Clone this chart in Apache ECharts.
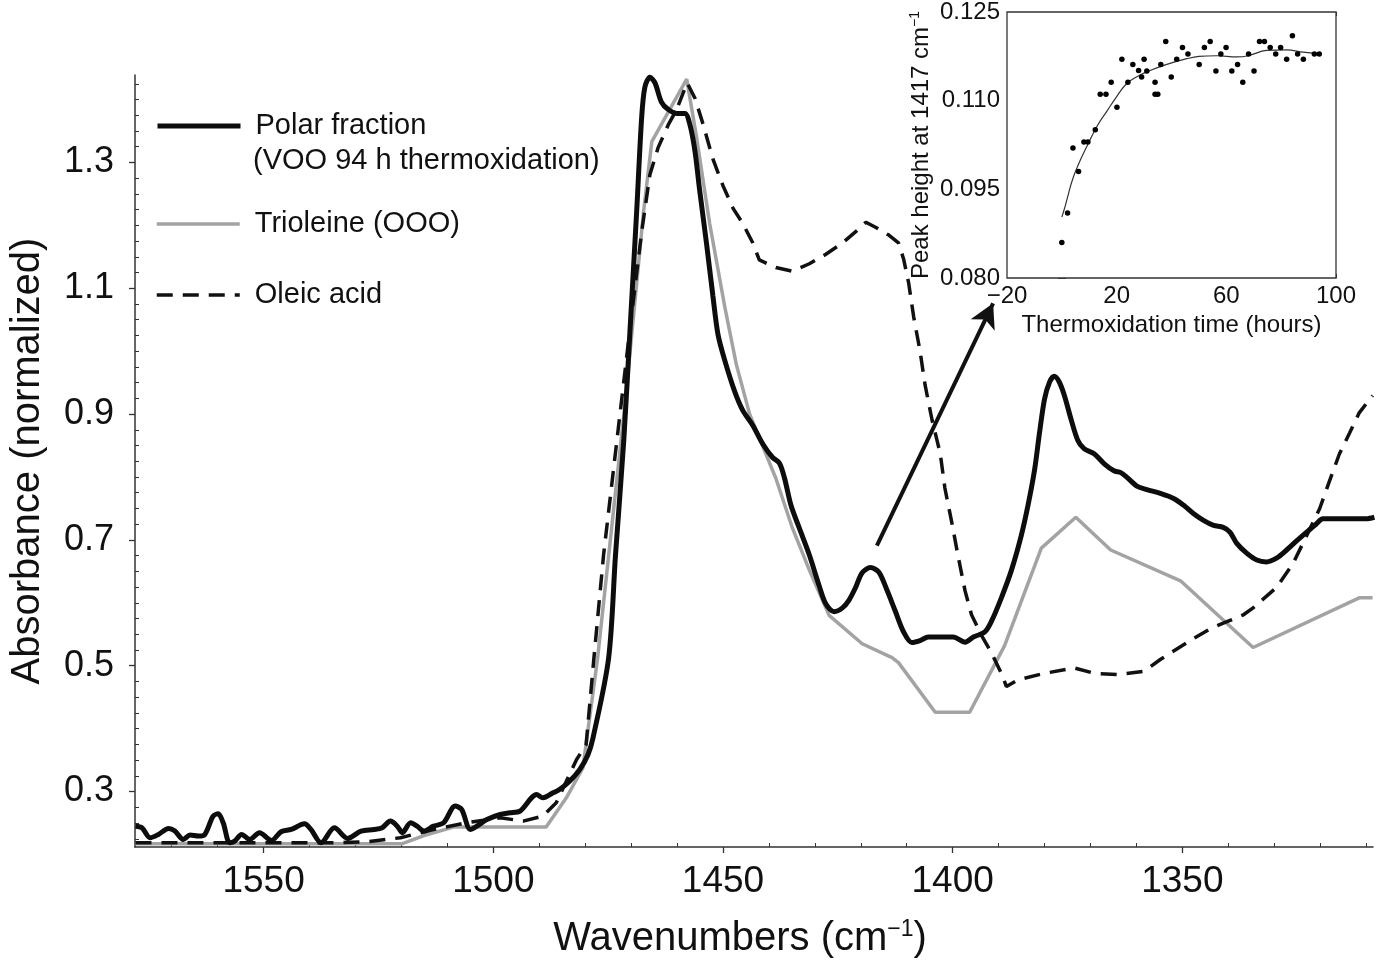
<!DOCTYPE html>
<html><head><meta charset="utf-8">
<script src="https://cdn.jsdelivr.net/npm/echarts@6/dist/echarts.min.js"></script>
<style>html,body{margin:0;padding:0;background:#fff}#c{width:1376px;height:964px}</style>
</head><body><div id="c"></div>
<script>
// ---------- Main spectrum data (wavenumber cm-1, normalized absorbance) ----------
const polarWn = [1577.9,1576.5,1574.7,1572.9,1570.7,1569.3,1567.5,1566.0,1564.2,1562.8,1561.0,1559.9,1558.8,1557.4,1556.3,1554.8,1553.0,1550.9,1548.3,1546.2,1544.0,1541.1,1539.7,1537.5,1534.6,1531.7,1528.8,1526.0,1524.2,1522.4,1520.9,1519.8,1518.0,1516.6,1515.1,1513.0,1510.8,1508.3,1506.9,1505.0,1503.6,1501.4,1498.5,1496.4,1494.2,1491.7,1490.6,1489.2,1487.0,1485.6,1483.4,1481.2,1479.4,1478.3,
1474.9,1473.4,1471.6,1470.2,1468.8,1467.7,1467.0,1465.9,1464.8,1463.4,1461.9,1460.1,1458.3,1457.2,1456.1,1455.1,1453.6,1452.2,1451.1,1449.6,1447.5,1445.7,1443.5,1441.3,1439.2,1437.7,1436.6,1435.2,1433.4,1431.2,1429.1,1427.6,1425.8,1424.0,1422.6,1421.1,1419.7,1417.9,1416.1,1414.4,1412.5,1410.7,1408.9,1407.1,1405.3,1402.4,1399.9,1397.3,1395.5,1393.0,1391.6,1389.4,1387.2,1385.1,1383.6,1382.2,1381.1,1380.0,1378.9,1377.9,1376.8,1375.7,1374.2,1372.8,1371.4,1369.2,1367.0,1364.9,1363.4,1362.0,1359.8,1357.7,1354.8,1351.9,1349.7,1347.6,1345.4,1343.2,1341.1,1339.6,1338.2,1336.0,1333.8,1331.7,1329.5,1327.3,1325.2,1323.0,1320.9,1319.4,1316.5,1312.9,1310.0,1308.2];
const polarAbs = [0.245,0.2425,0.2266,0.2319,0.2414,0.2372,0.2239,0.2309,0.2293,0.2319,0.261,0.2647,0.2504,0.2187,0.2213,0.2319,0.2239,0.2346,0.2223,0.2361,0.2398,0.2488,0.2398,0.2187,0.2425,0.2255,0.2372,0.2398,0.2425,0.2531,0.245,0.2346,0.2504,0.245,0.2372,0.245,0.2504,0.2769,0.2716,0.2398,0.245,0.2556,0.2636,0.2662,0.2689,0.290,0.2952,0.290,0.298,0.3032,0.3165,0.3349,0.3586,0.385,
0.512,0.676,0.858,1.039,1.221,1.372,1.420,1.4355,1.4265,1.396,1.384,1.378,1.378,1.360,1.318,1.257,1.172,1.088,1.027,0.985,0.937,0.906,0.882,0.852,0.831,0.822,0.798,0.755,0.719,0.676,0.628,0.598,0.586,0.592,0.604,0.625,0.648,0.656,0.649,0.622,0.587,0.554,0.537,0.540,0.5456,0.5456,0.5456,0.5374,0.5456,0.5537,0.570,0.608,0.652,0.706,0.755,0.810,0.870,0.924,0.951,0.960,0.951,0.930,0.891,0.859,0.845,0.837,0.821,0.810,0.807,0.799,0.785,0.780,0.774,0.766,0.755,0.742,0.731,0.723,0.720,0.712,0.695,0.679,0.668,0.665,0.671,0.684,0.698,0.712,0.725,0.7335,0.7335,0.7335,0.7335,0.736];

const trioWn  = [1577.9,1519.8,1515.1,1508.7,1488.5,1484.1,1480.5,1477.3,1471.3,1467.3,1465.5,1457.9,1455.8,1452.9,1449.6,1447.1,1444.2,1438.5,1434.9,1431.2,1426.9,1419.7,1413.2,1411.8,1403.8,1396.3,1388.7,1380.7,1373.2,1365.6,1350.4,1334.6,1311.5,1308.6];
const trioAbs = [0.2171,0.2171,0.230,0.2436,0.2436,0.290,0.3376,0.512,0.918,1.221,1.333,1.4325,1.342,1.203,1.070,0.979,0.900,0.798,0.719,0.652,0.580,0.535,0.513,0.505,0.426,0.426,0.532,0.687,0.736,0.684,0.635,0.529,0.608,0.608];

const oleicWn  = [1577.9,1534.6,1527.4,1520.2,1513.0,1505.8,1498.5,1493.5,1489.2,1486.3,1484.1,1481.9,1479.8,1478.1,1476.0,1473.1,1470.2,1467.7,1465.9,1464.1,1461.9,1460.1,1457.8,1456.1,1454.3,1452.2,1450.0,1447.8,1445.7,1443.5,1442.1,1438.5,1434.9,1431.2,1427.6,1424.0,1421.1,1418.9,1416.8,1415.4,1413.9,1411.8,1410.7,1409.6,1408.5,1407.1,1406.0,1404.5,1402.7,1401.7,1400.2,1398.8,1397.3,1395.9,1393.7,1391.6,1389.4,1388.3,1385.8,1380.0,1373.5,1369.2,1364.1,1358.4,1354.8,1351.2,1347.6,1343.9,1340.3,1336.7,1334.6,1329.5,1325.9,1323.0,1320.1,1318.0,1315.8,1313.6,1311.5,1308.6];
const oleicAbs = [0.2187,0.2187,0.2203,0.2266,0.2398,0.2504,0.2583,0.2531,0.261,0.2821,0.3165,0.3507,0.3745,0.512,0.676,0.858,1.039,1.19,1.281,1.324,1.360,1.384,1.4265,1.402,1.360,1.3055,1.263,1.227,1.203,1.172,1.145,1.133,1.127,1.139,1.154,1.172,1.19,1.205,1.197,1.191,1.1845,1.172,1.147,1.109,1.055,1.000,0.946,0.891,0.837,0.7825,0.728,0.6735,0.619,0.581,0.548,0.521,0.488,0.467,0.4775,0.488,0.4965,0.488,0.486,0.491,0.510,0.5265,0.543,0.559,0.570,0.581,0.592,0.6245,0.6626,0.706,0.750,0.793,0.837,0.870,0.902,0.9295];

// arrow annotation (from the 1417 cm-1 peak towards the inset)
const arrowFrom = [1416.5, 0.691];
const arrowTo   = [1391.2, 1.076];

// ---------- Inset data ----------
const insetHours = [0,2.1,4.05,6.1,8.06,9.5,12.2,14.0,16.1,18.0,20.1,21.9,24.1,25.9,28.0,29.1,30.0,31.0,34.0,34.0,35.0,36.1,37.9,39.9,41.9,44.0,46.0,50.1,52.0,54.1,56.2,58.0,59.9,62.0,64.1,66.0,68.1,70.1,72.1,73.9,76.0,78.0,79.8,82.0,84.1,86.0,88.1,92.1,93.9];
const insetPeak  = [0.0860,0.0910,0.1020,0.0980,0.1030,0.1030,0.1051,0.1111,0.1111,0.1131,0.1089,0.1170,0.1131,0.1161,0.1151,0.1140,0.1170,0.1150,0.1131,0.1111,0.1111,0.1161,0.1200,0.1140,0.1170,0.1190,0.1179,0.1161,0.1190,0.1200,0.1150,0.1179,0.1190,0.1150,0.1161,0.1131,0.1179,0.1150,0.1200,0.1200,0.1190,0.1179,0.1190,0.1170,0.1210,0.1179,0.1170,0.1179,0.1179];
const fitHours = [0,1,2,4,7,10,13,16.4,20,23.7,28,32.2,38,45.6,50,56.5,63.8,68,74.7,82,88,94];
const fitPeak  = [0.0903,0.0918,0.0935,0.0968,0.1002,0.1031,0.1058,0.1082,0.1107,0.1129,0.1142,0.1151,0.1161,0.1171,0.1175,0.1176,0.1174,0.1176,0.1185,0.1186,0.1182,0.1179];

// ---------- Tick values ----------
const xMajorTicks = [1350,1400,1450,1500,1550];
const xMinorTicks = [1310,1320,1330,1340,1360,1370,1380,1390,1410,1420,1430,1440,1460,1470,1480,1490,1510,1520,1530,1540,1560,1570];
const yMajorTicks = [0.3,0.5,0.7,0.9,1.1,1.3];
const yMinorTicks = [0.225,0.25,0.275,0.325,0.35,0.375,0.4,0.425,0.45,0.475,0.525,0.55,0.575,0.6,0.625,0.65,0.675,0.725,0.75,0.775,0.8,0.825,0.85,0.875,0.925,0.95,0.975,1.0,1.025,1.05,1.075,1.125,1.15,1.175,1.2,1.225,1.25,1.275,1.325,1.35,1.375,1.4,1.425];
const insetXTicks  = [-20,-10,0,10,20,30,40,50,60,70,80,90,100];
const insetXLabels = [-20,20,60,100];
const insetYTicks  = [0.080,0.085,0.090,0.095,0.100,0.105,0.110,0.115,0.120,0.125];
const insetYLabels = [0.080,0.095,0.110,0.125];

const zip = (a, b) => a.map((v, i) => [v, b[i]]);
const FF = '"Liberation Sans", Arial, Helvetica, sans-serif';
const TXT = '#111';
const AX = '#333';
const BLACK = '#0d0d0d';
const GRAY = '#a3a3a3';

const mainX = {min: 1308.5, max: 1578};
const mainY = {min: 0.2119, max: 1.439};

const legendBase = (name, top, width) => ({
  data: [name], left: 155, top: top, padding: 0, orient: 'vertical', itemWidth: 83, itemHeight: 14,
  selectedMode: false,
  itemStyle: {color: 'rgba(0,0,0,0)', borderColor: 'rgba(0,0,0,0)', borderWidth: 0, opacity: 0},
  lineStyle: {width: width},
  textStyle: {fontSize: 29, color: TXT, fontFamily: FF, lineHeight: 30, padding: [0, 0, 0, 10]}
});

const chart = echarts.init(document.getElementById('c'), null, {renderer: 'canvas'});
chart.setOption({
  animation: false,
  backgroundColor: '#fff',
  grid: [
    {left: 129, top: 75, right: 3, bottom: 115, show: false},
    {left: 1007, top: 9, right: 40, bottom: 686, show: true, borderColor: AX, borderWidth: 1.3, backgroundColor: '#fff', z: 5}
  ],
  legend: [
    legendBase('Polar fraction', 111, 5),
    legendBase('Trioleine (OOO)', 209, 3.5),
    legendBase('Oleic acid', 280, 3.5)
  ],
  graphic: [
    {type: 'text', left: 253, top: 146, z: 10,
     style: {text: '(VOO 94 h thermoxidation)', font: '29px ' + FF, fill: TXT}}
  ],
  xAxis: [
    {gridIndex: 0, type: 'value', min: mainX.min, max: mainX.max, inverse: true, position: 'bottom',
     axisLine: {show: true, onZero: false, lineStyle: {color: AX, width: 1.5}},
     axisTick: {show: true, customValues: xMajorTicks, length: 6, lineStyle: {color: AX, width: 1.3}},
     axisLabel: {customValues: xMajorTicks, fontSize: 37, color: TXT, fontFamily: FF, margin: 16,
       formatter: v => String(v)},
     splitLine: {show: false},
     name: '{a|Wavenumbers (cm}{b|−1}{a|)}', nameLocation: 'middle', nameGap: 71,
     nameTextStyle: {padding: [0, 28, 0, 0], rich: {
       a: {fontSize: 40, fontFamily: FF, color: TXT, lineHeight: 42},
       b: {fontSize: 23, fontFamily: FF, color: TXT, verticalAlign: 'top', lineHeight: 42}}}},
    {gridIndex: 0, type: 'value', min: mainX.min, max: mainX.max, inverse: true, position: 'bottom',
     axisLine: {show: false}, axisLabel: {show: false}, splitLine: {show: false},
     axisTick: {show: true, customValues: xMinorTicks, inside: true, length: 4, lineStyle: {color: AX, width: 1}}},
    {gridIndex: 1, type: 'value', min: -20, max: 100, position: 'bottom',
     axisLine: {show: false}, splitLine: {show: false},
     axisTick: {show: true, customValues: insetXTicks, inside: true, length: 4, lineStyle: {color: AX, width: 1}},
     axisLabel: {customValues: insetXLabels, fontSize: 24, color: TXT, fontFamily: FF, margin: 6,
       formatter: v => (v < 0 ? '−' + Math.abs(v) : String(v))},
     name: 'Thermoxidation time (hours)', nameLocation: 'middle', nameGap: 35,
     nameTextStyle: {fontSize: 24, color: TXT, fontFamily: FF}},
    {gridIndex: 1, type: 'value', min: -20, max: 100, position: 'top',
     axisLine: {show: false}, splitLine: {show: false}, axisLabel: {show: false},
     axisTick: {show: true, customValues: insetXTicks, inside: true, length: 4, lineStyle: {color: AX, width: 1}}}
  ],
  yAxis: [
    {gridIndex: 0, type: 'value', min: mainY.min, max: mainY.max, position: 'left',
     axisLine: {show: true, onZero: false, lineStyle: {color: AX, width: 1.5}},
     axisTick: {show: true, customValues: yMajorTicks, length: 6, lineStyle: {color: AX, width: 1.3}},
     axisLabel: {customValues: yMajorTicks, fontSize: 36, color: TXT, fontFamily: FF, margin: 21,
       formatter: v => v.toFixed(1)},
     splitLine: {show: false},
     name: 'Absorbance (normalized)', nameLocation: 'middle', nameGap: 87,
     nameTextStyle: {fontSize: 40, color: TXT, fontFamily: FF}},
    {gridIndex: 0, type: 'value', min: mainY.min, max: mainY.max, position: 'left',
     axisLine: {show: false}, axisLabel: {show: false}, splitLine: {show: false},
     axisTick: {show: true, customValues: yMinorTicks, inside: true, length: 4, lineStyle: {color: AX, width: 1}}},
    {gridIndex: 1, type: 'value', min: 0.080, max: 0.125, position: 'left',
     axisLine: {show: false}, splitLine: {show: false},
     axisTick: {show: true, customValues: insetYTicks, inside: true, length: 4, lineStyle: {color: AX, width: 1}},
     axisLabel: {customValues: insetYLabels, fontSize: 24, color: TXT, fontFamily: FF, margin: 7,
       formatter: v => v.toFixed(3)},
     name: '{a|Peak height at 1417 cm}{b|−1}', nameLocation: 'middle', nameGap: 73,
     nameTextStyle: {rich: {
       a: {fontSize: 24, fontFamily: FF, color: TXT, lineHeight: 26},
       b: {fontSize: 14, fontFamily: FF, color: TXT, verticalAlign: 'top', lineHeight: 26}}}},
    {gridIndex: 1, type: 'value', min: 0.080, max: 0.125, position: 'right',
     axisLine: {show: false}, splitLine: {show: false}, axisLabel: {show: false},
     axisTick: {show: true, customValues: insetYTicks, inside: true, length: 4, lineStyle: {color: AX, width: 1}}}
  ],
  series: [
    {name: 'Trioleine (OOO)', type: 'line', xAxisIndex: 0, yAxisIndex: 0, data: zip(trioWn, trioAbs),
     symbol: 'none', showSymbol: false, smooth: false, lineStyle: {color: GRAY, width: 3.5}, itemStyle: {color: GRAY}, z: 2},
    {name: 'Oleic acid', type: 'line', xAxisIndex: 0, yAxisIndex: 0, data: zip(oleicWn, oleicAbs),
     symbol: 'none', showSymbol: false, smooth: false, lineStyle: {color: '#111', width: 3.5, type: [16, 10]}, itemStyle: {color: '#111'}, z: 3},
    {name: 'Polar fraction', type: 'line', xAxisIndex: 0, yAxisIndex: 0, data: zip(polarWn, polarAbs),
     symbol: 'none', showSymbol: false, smooth: 0.3, lineStyle: {color: BLACK, width: 5}, itemStyle: {color: BLACK}, z: 4,
     markLine: {silent: true, symbol: ['none', 'arrow'], symbolSize: [20, 24], animation: false,
       lineStyle: {color: '#111', width: 4, type: 'solid'}, label: {show: false},
       data: [[{coord: arrowFrom}, {coord: arrowTo}]]}},
    {name: 'Fit', type: 'line', xAxisIndex: 2, yAxisIndex: 2, data: zip(fitHours, fitPeak),
     symbol: 'none', smooth: 0.4, lineStyle: {color: '#333', width: 1.2}, z: 6},
    {name: 'Measured', type: 'scatter', xAxisIndex: 2, yAxisIndex: 2, data: zip(insetHours, insetPeak),
     symbol: 'circle', symbolSize: 5.5, itemStyle: {color: '#000', opacity: 1}, z: 7}
  ]
});
</script>
</body></html>
